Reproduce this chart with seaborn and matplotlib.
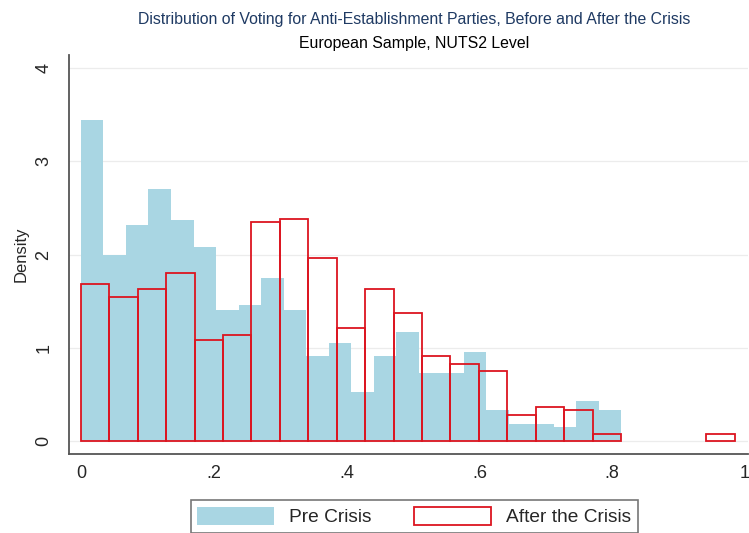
import numpy as np
import pandas as pd
import matplotlib
matplotlib.use("Agg")
import matplotlib.pyplot as plt
import seaborn as sns

# densities
pre_width = 0.0339
pre_density = [3.44, 1.99, 2.32, 2.70, 2.37, 2.08, 1.41, 1.46, 1.745, 1.41,
               0.917, 1.056, 0.53, 0.917, 1.167, 0.728, 0.728, 0.96, 0.34, 0.19,
               0.19, 0.15, 0.435, 0.34]
post_width = 0.0428
post_density = [1.68, 1.55, 1.63, 1.80, 1.085, 1.135, 2.345, 2.38, 1.966, 1.213,
                1.627, 1.37, 0.917, 0.828, 0.75, 0.285, 0.367, 0.335, 0.078, 0.0,
                0.0, 0.0, 0.078]
x_ticks = [0, 0.2, 0.4, 0.6, 0.8, 1.0]
x_labels = ["0", ".2", ".4", ".6", ".8", "1"]
y_ticks = [0, 1, 2, 3, 4]

pre_edges = np.arange(len(pre_density) + 1) * pre_width
post_edges = np.arange(len(post_density) + 1) * post_width
pre = pd.DataFrame({"x": (pre_edges[:-1] + pre_edges[1:]) / 2, "w": pre_density})
post = pd.DataFrame({"x": (post_edges[:-1] + post_edges[1:]) / 2, "w": post_density})

sns.set_style("white")
plt.rcParams["font.family"] = ["Liberation Sans", "DejaVu Sans"]

fig = plt.figure(figsize=(7.49, 5.33), dpi=100)
ax = fig.add_axes([0.0921, 0.1482, 0.9066, 0.7486])

blue = "#a9d6e3"
red = "#dc1520"
sns.histplot(data=pre, x="x", weights="w", bins=pre_edges.tolist(), stat="count",
             color=blue, alpha=1, linewidth=0, ax=ax, label="Pre Crisis")
n_pre = len(ax.patches)
sns.histplot(data=post, x="x", weights="w", bins=post_edges.tolist(), stat="count",
             fill=False, element="bars", color=red, linewidth=1.3, ax=ax,
             label="After the Crisis")
# Stata draws nothing for empty bins
for p in list(ax.patches[n_pre:]):
    if p.get_height() == 0:
        p.remove()

ax.set_xlim(-0.018, 1.0045)
ax.set_ylim(-0.136, 4.136)
ax.set_xticks(x_ticks)
ax.set_xticklabels(x_labels)
ax.set_yticks(y_ticks)
ax.set_yticklabels([str(v) for v in y_ticks], rotation=90, va="center")
ax.set_xlabel("")
ax.set_ylabel("Density", fontsize=12, labelpad=5)
ax.tick_params(axis="both", direction="out", length=7, width=1.1, color="#555555",
               labelsize=13)
ax.tick_params(axis="x", pad=1)
ax.tick_params(axis="y", pad=5)
ax.set_axisbelow(True)
ax.yaxis.grid(True, color="#ececec", linewidth=0.9)
ax.xaxis.grid(False)
for s in ["top", "right"]:
    ax.spines[s].set_visible(False)
for s in ["left", "bottom"]:
    ax.spines[s].set_color("#555555")
    ax.spines[s].set_linewidth(1.3)

fig.text(0.553, 0.963, "Distribution of Voting for Anti-Establishment Parties, Before and After the Crisis",
         ha="center", va="center", fontsize=11.4, color="#1f3a63")
fig.text(0.553, 0.918, "European Sample, NUTS2 Level", ha="center", va="center",
         fontsize=11.4, color="black")

handles, labels = ax.get_legend_handles_labels()
leg = fig.legend(handles, labels, loc="upper center", bbox_to_anchor=(0.553, 0.08),
                 ncol=2, fontsize=13.8, frameon=True, fancybox=False,
                 handlelength=4.0, handleheight=1.1, columnspacing=2.2,
                 borderpad=0.35, edgecolor="#555555")
leg.get_frame().set_linewidth(1.2)

fig.savefig("out.png", dpi=100)
